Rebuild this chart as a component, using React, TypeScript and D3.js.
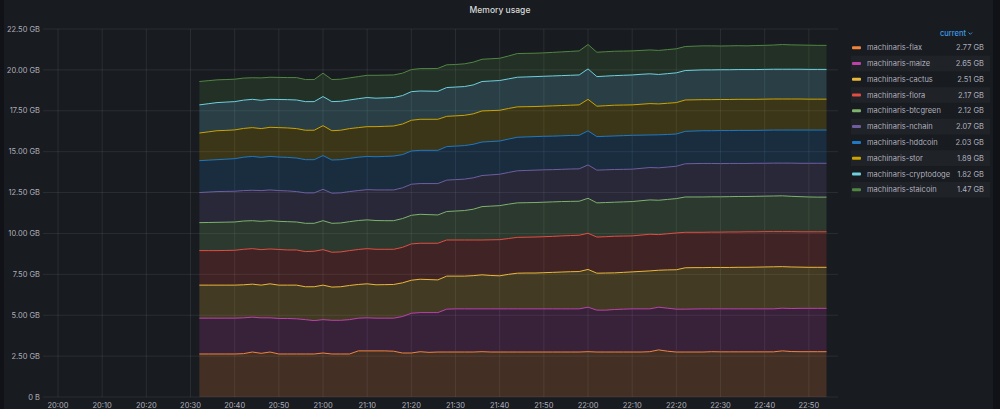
import { useRef, useEffect } from 'react';
import * as d3 from 'd3';

// Stack order, bottom to top
const SERIES = [
  "machinaris-flax",
  "machinaris-maize",
  "machinaris-cactus",
  "machinaris-flora",
  "machinaris-btcgreen",
  "machinaris-nchain",
  "machinaris-hddcoin",
  "machinaris-stor",
  "machinaris-cryptodoge",
  "machinaris-staicoin"
];

const COLORS = [
  "#EF843C", "#BA43A9", "#EAB839", "#E24D42", "#7EB26D",
  "#705DA0", "#1F78C1", "#CCA300", "#6ED0E0", "#508642"
];

// Memory per container in GB, one sample every 2 minutes from 20:32
const flax = [
  2.63, 2.63, 2.63, 2.63, 2.63, 2.65, 2.75, 2.67, 2.75, 2.63,
  2.63, 2.63, 2.63, 2.63, 2.69, 2.63, 2.63, 2.63, 2.82, 2.82,
  2.82, 2.82, 2.80, 2.69, 2.69, 2.77, 2.73, 2.75, 2.75, 2.75,
  2.75, 2.75, 2.77, 2.75, 2.75, 2.75, 2.75, 2.75, 2.75, 2.75,
  2.75, 2.75, 2.75, 2.75, 2.77, 2.75, 2.75, 2.75, 2.75, 2.75,
  2.75, 2.77, 2.88, 2.80, 2.75, 2.75, 2.75, 2.75, 2.77, 2.76,
  2.76, 2.76, 2.76, 2.76, 2.76, 2.76, 2.82, 2.78, 2.77, 2.77,
  2.77, 2.77
];
const maize = [
  2.19, 2.19, 2.19, 2.19, 2.19, 2.19, 2.13, 2.17, 2.09, 2.17,
  2.17, 2.15, 2.10, 2.04, 2.04, 2.06, 2.06, 2.10, 2.00, 2.02,
  2.00, 2.00, 2.02, 2.23, 2.43, 2.39, 2.43, 2.41, 2.62, 2.64,
  2.64, 2.64, 2.62, 2.64, 2.64, 2.64, 2.64, 2.64, 2.64, 2.64,
  2.64, 2.64, 2.64, 2.64, 2.72, 2.56, 2.56, 2.60, 2.62, 2.64,
  2.64, 2.62, 2.61, 2.63, 2.62, 2.62, 2.63, 2.64, 2.62, 2.63,
  2.63, 2.63, 2.63, 2.63, 2.63, 2.63, 2.61, 2.63, 2.65, 2.65,
  2.65, 2.65
];
const cactus = [
  2.02, 2.02, 2.02, 2.02, 2.02, 2.02, 2.02, 2.00, 2.08, 2.04,
  2.04, 2.06, 2.01, 2.07, 2.11, 2.03, 2.05, 2.09, 2.06, 2.08,
  2.04, 2.05, 2.06, 2.06, 2.02, 2.04, 2.02, 2.00, 2.02, 2.00,
  2.00, 2.03, 2.08, 2.04, 2.02, 2.11, 2.18, 2.19, 2.19, 2.21,
  2.23, 2.25, 2.27, 2.28, 2.31, 2.26, 2.27, 2.24, 2.25, 2.26,
  2.29, 2.32, 2.26, 2.34, 2.41, 2.53, 2.53, 2.52, 2.53, 2.53,
  2.53, 2.54, 2.54, 2.55, 2.56, 2.57, 2.54, 2.54, 2.52, 2.51,
  2.51, 2.51
];
const flora = [
  2.11, 2.11, 2.11, 2.12, 2.13, 2.17, 2.17, 2.17, 2.13, 2.18,
  2.15, 2.15, 2.15, 2.17, 2.17, 2.13, 2.13, 2.13, 2.14, 2.15,
  2.17, 2.16, 2.15, 2.17, 2.22, 2.20, 2.22, 2.24, 2.21, 2.21,
  2.21, 2.18, 2.13, 2.18, 2.21, 2.19, 2.19, 2.19, 2.20, 2.20,
  2.20, 2.21, 2.21, 2.22, 2.21, 2.21, 2.22, 2.24, 2.22, 2.20,
  2.22, 2.24, 2.18, 2.21, 2.25, 2.17, 2.16, 2.16, 2.16, 2.16,
  2.17, 2.16, 2.17, 2.16, 2.16, 2.15, 2.14, 2.16, 2.16, 2.17,
  2.17, 2.17
];
const btcgreen = [
  1.71, 1.72, 1.73, 1.73, 1.73, 1.73, 1.71, 1.73, 1.73, 1.72,
  1.73, 1.71, 1.73, 1.71, 1.77, 1.77, 1.77, 1.77, 1.77, 1.76,
  1.76, 1.75, 1.75, 1.76, 1.75, 1.77, 1.75, 1.73, 1.74, 1.77,
  1.80, 1.88, 2.04, 2.06, 2.08, 2.10, 2.11, 2.11, 2.11, 2.11,
  2.11, 2.10, 2.09, 2.08, 2.14, 2.09, 2.09, 2.08, 2.09, 2.10,
  2.10, 2.10, 2.10, 2.10, 2.10, 2.16, 2.16, 2.16, 2.16, 2.16,
  2.16, 2.17, 2.16, 2.17, 2.17, 2.18, 2.19, 2.16, 2.15, 2.13,
  2.12, 2.12
];
const nchain = [
  1.84, 1.86, 1.88, 1.88, 1.88, 1.86, 1.86, 1.88, 1.88, 1.88,
  1.88, 1.86, 1.86, 1.86, 1.92, 1.84, 1.84, 1.84, 1.83, 1.85,
  1.87, 1.88, 1.88, 1.88, 1.90, 1.88, 1.90, 1.92, 1.92, 1.92,
  1.92, 1.92, 1.90, 1.91, 1.92, 1.94, 1.96, 1.97, 1.98, 1.98,
  1.97, 1.97, 1.98, 1.98, 2.04, 2.00, 2.00, 2.00, 1.99, 1.98,
  1.98, 1.98, 1.98, 1.98, 1.98, 2.03, 2.04, 2.05, 2.04, 2.03,
  2.03, 2.02, 2.02, 2.02, 2.01, 2.01, 2.00, 2.03, 2.04, 2.06,
  2.07, 2.07
];
const hddcoin = [
  1.95, 1.95, 1.95, 1.97, 1.99, 2.04, 2.07, 2.03, 2.05, 2.05,
  2.05, 2.05, 2.03, 2.03, 2.06, 2.03, 2.03, 2.03, 2.04, 2.03,
  2.03, 2.05, 2.07, 2.03, 2.03, 2.03, 2.03, 2.03, 2.05, 2.05,
  2.05, 2.05, 2.05, 2.04, 2.03, 2.04, 2.05, 2.05, 2.05, 2.05,
  2.05, 2.05, 2.05, 2.05, 2.08, 2.05, 2.05, 2.05, 2.06, 2.07,
  2.03, 1.99, 2.02, 1.99, 1.97, 1.98, 1.99, 2.00, 2.00, 2.02,
  2.01, 2.02, 2.02, 2.01, 2.02, 2.02, 2.02, 2.02, 2.03, 2.03,
  2.03, 2.03
];
const stor = [
  1.69, 1.73, 1.77, 1.76, 1.76, 1.76, 1.76, 1.76, 1.78, 1.80,
  1.80, 1.80, 1.80, 1.80, 1.83, 1.79, 1.80, 1.82, 1.81, 1.82,
  1.84, 1.84, 1.84, 1.87, 1.88, 1.90, 1.90, 1.90, 1.85, 1.85,
  1.85, 1.86, 1.90, 1.89, 1.88, 1.87, 1.86, 1.85, 1.84, 1.84,
  1.85, 1.85, 1.85, 1.86, 1.93, 1.86, 1.87, 1.88, 1.87, 1.86,
  1.89, 1.92, 1.89, 1.91, 1.92, 1.92, 1.91, 1.90, 1.90, 1.90,
  1.90, 1.90, 1.90, 1.90, 1.90, 1.90, 1.90, 1.90, 1.90, 1.89,
  1.89, 1.89
];
const cryptodoge = [
  1.72, 1.72, 1.72, 1.73, 1.73, 1.73, 1.73, 1.73, 1.71, 1.72,
  1.73, 1.75, 1.75, 1.75, 1.78, 1.78, 1.77, 1.75, 1.77, 1.78,
  1.74, 1.74, 1.74, 1.74, 1.75, 1.73, 1.72, 1.71, 1.76, 1.76,
  1.76, 1.77, 1.80, 1.81, 1.82, 1.81, 1.81, 1.82, 1.83, 1.83,
  1.83, 1.83, 1.83, 1.83, 1.86, 1.81, 1.81, 1.81, 1.82, 1.83,
  1.83, 1.82, 1.80, 1.81, 1.82, 1.80, 1.81, 1.82, 1.82, 1.82,
  1.82, 1.82, 1.82, 1.82, 1.82, 1.82, 1.82, 1.82, 1.82, 1.82,
  1.82, 1.82
];
const staicoin = [
  1.43, 1.41, 1.39, 1.38, 1.37, 1.35, 1.32, 1.37, 1.35, 1.35,
  1.35, 1.37, 1.35, 1.35, 1.43, 1.35, 1.35, 1.35, 1.35, 1.36,
  1.40, 1.39, 1.38, 1.37, 1.35, 1.37, 1.38, 1.40, 1.39, 1.38,
  1.39, 1.39, 1.36, 1.36, 1.36, 1.40, 1.45, 1.44, 1.43, 1.43,
  1.44, 1.45, 1.46, 1.47, 1.49, 1.49, 1.49, 1.49, 1.48, 1.47,
  1.46, 1.46, 1.47, 1.47, 1.47, 1.47, 1.47, 1.47, 1.47, 1.45,
  1.46, 1.46, 1.45, 1.47, 1.47, 1.48, 1.51, 1.49, 1.48, 1.48,
  1.47, 1.47
];

const VALUES = [flax, maize, cactus, flora, btcgreen, nchain, hddcoin, stor, cryptodoge, staicoin];

const FIRST_SAMPLE = new Date(2022, 0, 1, 20, 32);
const SAMPLE_STEP_MIN = 2;
// Dashboard time range (last 3 hours)
const RANGE_FROM = new Date(2022, 0, 1, 19, 56, 36);
const RANGE_TO = new Date(2022, 0, 1, 22, 56, 36);

const Y_TICKS = [0, 2.5, 5, 7.5, 10, 12.5, 15, 17.5, 20, 22.5];

const FONT = "Inter, 'Noto Sans', sans-serif";
const TEXT = "rgba(204,204,220,0.85)";
const GRID = "rgba(204,204,220,0.1)";

function App() {
  const svgRef = useRef<SVGSVGElement>(null);

  useEffect(() => {
    const svg = d3.select(svgRef.current);
    svg.selectAll("*").remove();

    const W = 1000, H = 409;
    const plot = { left: 43, right: 838, top: 29, bottom: 397 };

    svg.attr("width", W).attr("height", H);

    // Page and panel background
    svg.append("rect").attr("width", W).attr("height", H).attr("fill", "#111217");
    svg.append("rect").attr("x", 4).attr("y", 0).attr("width", 989).attr("height", H).attr("fill", "#181b1f");

    svg.append("text")
      .attr("x", 500).attr("y", 13)
      .attr("text-anchor", "middle")
      .style("font-family", FONT).style("font-size", "8.5px").style("font-weight", 500)
      .style("fill", "#d8d9da")
      .text("Memory usage");

    const rows = VALUES[0].map((_, i) => {
      const r: any = { time: d3.timeMinute.offset(FIRST_SAMPLE, i * SAMPLE_STEP_MIN) };
      SERIES.forEach((s, k) => { r[s] = VALUES[k][i]; });
      return r;
    });

    const x = d3.scaleTime().domain([RANGE_FROM, RANGE_TO]).range([plot.left, plot.right]);
    const y = d3.scaleLinear().domain([0, 22.5]).range([plot.bottom, plot.top]);

    const fmtY = (v: number) => (v === 0 ? "0 B" : d3.format(".2f")(v) + " GB");

    // Grid
    const grid = svg.append("g");
    grid.selectAll("line.h")
      .data(Y_TICKS)
      .enter().append("line")
      .attr("x1", plot.left).attr("x2", plot.right)
      .attr("y1", d => y(d)).attr("y2", d => y(d))
      .attr("stroke", GRID).attr("stroke-width", 1);

    const xTicks = x.ticks(d3.timeMinute.every(10));
    grid.selectAll("line.v")
      .data(xTicks)
      .enter().append("line")
      .attr("x1", d => x(d)).attr("x2", d => x(d))
      .attr("y1", plot.top).attr("y2", plot.bottom)
      .attr("stroke", GRID).attr("stroke-width", 1);

    // Axis labels
    svg.append("g").selectAll("text")
      .data(Y_TICKS)
      .enter().append("text")
      .attr("x", 40).attr("y", d => y(d))
      .attr("dy", "0.35em")
      .attr("text-anchor", "end")
      .style("font-family", FONT).style("font-size", "7.5px").style("fill", TEXT)
      .text(d => fmtY(d));

    svg.append("g").selectAll("text")
      .data(xTicks)
      .enter().append("text")
      .attr("x", d => x(d)).attr("y", 408)
      .attr("text-anchor", "middle")
      .style("font-family", FONT).style("font-size", "7.5px").style("fill", TEXT)
      .text(d => d3.timeFormat("%H:%M")(d));

    // Stacked areas
    const stacked = d3.stack().keys(SERIES)(rows);

    const area = d3.area<any>()
      .x(d => x(d.data.time))
      .y0(d => y(d[0]))
      .y1(d => y(d[1]));

    const line = d3.line<any>()
      .x(d => x(d.data.time))
      .y(d => y(d[1]));

    svg.append("g").selectAll("path")
      .data(stacked)
      .enter().append("path")
      .attr("d", d => area(d))
      .attr("fill", (d, i) => COLORS[i])
      .attr("fill-opacity", 0.2);

    svg.append("g").selectAll("path")
      .data(stacked)
      .enter().append("path")
      .attr("d", d => line(d))
      .attr("fill", "none")
      .attr("stroke", (d, i) => COLORS[i])
      .attr("stroke-width", 1);

    // Legend table with current values
    const legend = svg.append("g");
    legend.append("text")
      .attr("x", 966).attr("y", 33.5).attr("dy", "0.35em")
      .attr("text-anchor", "end")
      .style("font-family", FONT).style("font-size", "7.5px").style("font-weight", 500)
      .style("fill", "#3d9be9")
      .text("current");
    legend.append("path")
      .attr("d", "M968.5,32.5 l1.8,1.8 l1.8,-1.8")
      .attr("fill", "none").attr("stroke", "#3d9be9").attr("stroke-width", 0.9);

    const rowY = (i: number) => 47.7 + i * 15.78;
    const item = legend.selectAll("g.item")
      .data(SERIES)
      .enter().append("g");

    item.filter((d, i) => i % 2 === 1)
      .append("rect")
      .attr("x", 851).attr("y", (d, i) => rowY(i * 2 + 1) - 7.9)
      .attr("width", 139).attr("height", 15.78)
      .attr("fill", "#1f2227");

    item.append("rect")
      .attr("x", 852).attr("y", (d, i) => rowY(i) - 1.5)
      .attr("width", 9).attr("height", 3).attr("rx", 1)
      .attr("fill", (d, i) => COLORS[i]);

    item.append("text")
      .attr("x", 867).attr("y", (d, i) => rowY(i)).attr("dy", "0.35em")
      .style("font-family", FONT).style("font-size", "7.5px").style("fill", TEXT)
      .text(d => d);

    item.append("text")
      .attr("x", 984).attr("y", (d, i) => rowY(i)).attr("dy", "0.35em")
      .attr("text-anchor", "end")
      .style("font-family", FONT).style("font-size", "7.5px").style("fill", TEXT)
      .text((d, i) => d3.format(".2f")(VALUES[i][VALUES[i].length - 1]) + " GB");
  }, []);

  return <svg ref={svgRef} style={{ position: "absolute", left: 0, top: 0, display: "block" }}></svg>;
}

export default App;
